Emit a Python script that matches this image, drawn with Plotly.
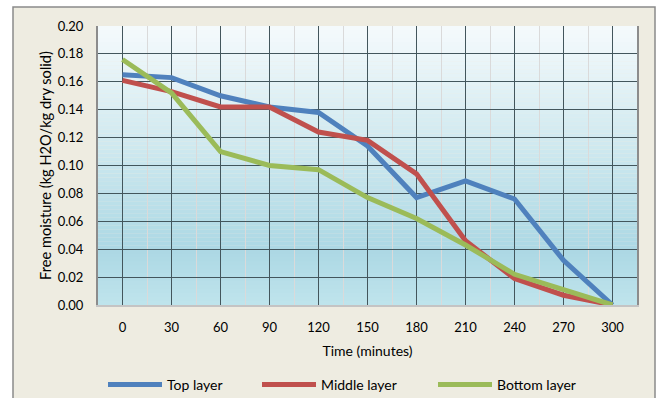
import plotly.graph_objects as go

# ---- data ----
time_min = [0, 30, 60, 90, 120, 150, 180, 210, 240, 270, 300]
top_layer = [0.165, 0.163, 0.150, 0.142, 0.138, 0.114, 0.077, 0.089, 0.076, 0.032, 0.000]
middle_layer = [0.161, 0.153, 0.142, 0.142, 0.124, 0.118, 0.094, 0.046, 0.019, 0.007, 0.000]
bottom_layer = [0.176, 0.152, 0.110, 0.100, 0.097, 0.077, 0.062, 0.043, 0.022, 0.011, 0.000]
series_names = ["Top layer", "Middle layer", "Bottom layer"]
series_colors = ["#4F81BD", "#C0504D", "#9BBB59"]
y_ticks = [0.00, 0.02, 0.04, 0.06, 0.08, 0.10, 0.12, 0.14, 0.16, 0.18, 0.20]

FONT = "Lato"
W, H = 662, 398
ML, MR, MT, MB = 98, 25, 26, 93
PW = W - ML - MR
PH = H - MT - MB

legend_ids = ["legend", "legend2", "legend3"]
legend_line_start = [108, 262, 438]

fig = go.Figure()
for name, vals, col, lid in zip(series_names, [top_layer, middle_layer, bottom_layer],
                                series_colors, legend_ids):
    fig.add_trace(go.Scatter(x=time_min, y=vals, mode="lines", name=name,
                             line=dict(color=col, width=5), legend=lid))

# ---- decorations: outer frame + gradient plot background ----
shapes = []
shapes.append(dict(type="rect", xref="paper", yref="paper",
                   x0=(13 - ML) / PW, x1=(655 - ML) / PW,
                   y0=-(H + 20 - (H - MB)) / PH, y1=1 + (MT - 7) / PH,
                   fillcolor="#EEECE1", line=dict(color="#8A8A8A", width=1.5),
                   layer="below"))

def lerp(c1, c2, t):
    return tuple(int(round(a + (b - a) * t)) for a, b in zip(c1, c2))

stops = [(0.0, (191, 228, 236)), (0.2, (172, 216, 228)), (0.55, (205, 232, 239)), (1.0, (245, 250, 252))]
N = 70
for i in range(N):
    t = (i + 0.5) / N
    for j in range(len(stops) - 1):
        if stops[j][0] <= t <= stops[j + 1][0]:
            u = (t - stops[j][0]) / (stops[j + 1][0] - stops[j][0])
            c = lerp(stops[j][1], stops[j + 1][1], u)
            break
    shapes.append(dict(type="rect", xref="paper", yref="paper",
                       x0=0, x1=1, y0=i / N, y1=min(1, (i + 1.02) / N),
                       fillcolor="rgb(%d,%d,%d)" % c, line=dict(width=0), layer="below"))

legend_common = dict(xref="container", yref="container", xanchor="left", yanchor="middle",
                     y=1 - 385 / H, font=dict(family=FONT, size=14),
                     bgcolor="rgba(0,0,0,0)", itemwidth=54, orientation="h")

fig.update_layout(
    width=W, height=H,
    margin=dict(l=ML, r=MR, t=MT, b=MB, autoexpand=False),
    paper_bgcolor="white",
    plot_bgcolor="rgba(0,0,0,0)",
    font=dict(family=FONT, size=13, color="#000000"),
    shapes=shapes,
    showlegend=True,
    legend=dict(x=(legend_line_start[0] - 5) / W, **legend_common),
    legend2=dict(x=(legend_line_start[1] - 5) / W, **legend_common),
    legend3=dict(x=(legend_line_start[2] - 5) / W, **legend_common),
)

fig.update_xaxes(
    range=[-15, 315], tickmode="array", tickvals=time_min,
    ticktext=[str(v) for v in time_min],
    showgrid=True, gridcolor="#43565C", gridwidth=1,
    minor=dict(tickmode="linear", tick0=15, dtick=30, showgrid=True,
               gridcolor="#DADADA", gridwidth=1),
    showline=True, linecolor="#C4C4C4", linewidth=1.5, mirror=False,
    zeroline=False, ticks="", ticklabelstandoff=10, automargin=False,
    tickfont=dict(family=FONT, size=13),
    title=dict(text="Time (minutes)", font=dict(family=FONT, size=14), standoff=12),
)
fig.update_yaxes(
    range=[0, 0.2], tickmode="array", tickvals=y_ticks,
    ticktext=["%.2f" % v for v in y_ticks],
    showgrid=True, gridcolor="#43565C", gridwidth=1,
    showline=True, linecolor="#8C8C8C", linewidth=2, mirror=True,
    zeroline=False, ticks="", ticklabelstandoff=10, automargin=False,
    tickfont=dict(family=FONT, size=13),
    title=dict(text="Free moisture (kg H2O/kg dry solid)", font=dict(family=FONT, size=14.6), standoff=3),
)

fig.write_html("out.html")
